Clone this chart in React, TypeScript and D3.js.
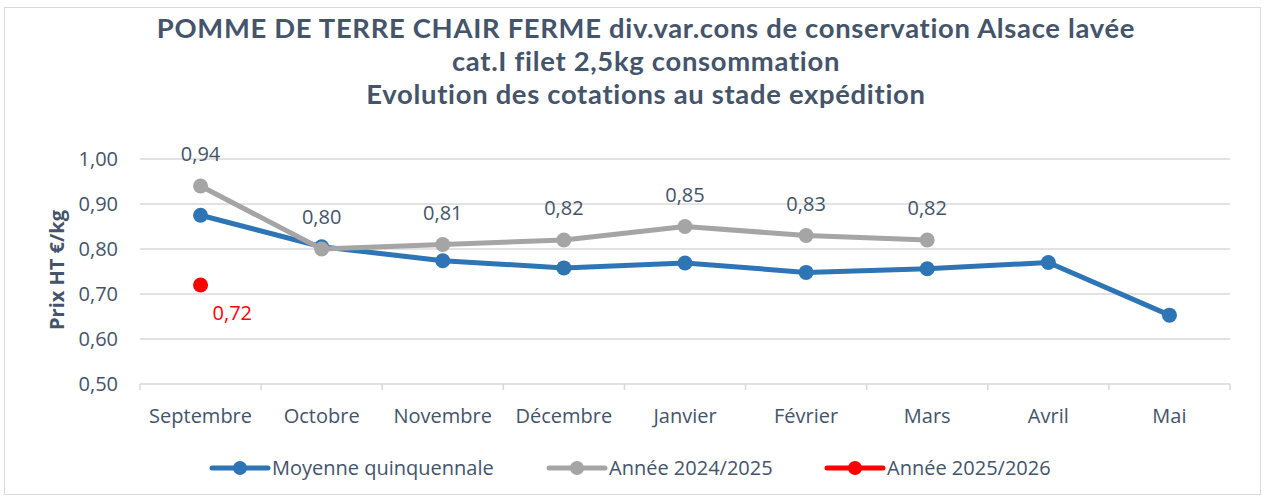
import * as d3 from "d3";

const W = 1266;
const H = 499;
const MARGIN = { top: 159, right: 36, bottom: 115, left: 140 };

const months = ["Septembre", "Octobre", "Novembre", "Décembre", "Janvier", "Février", "Mars", "Avril", "Mai"];
const moyenne = [0.875, 0.805, 0.774, 0.758, 0.769, 0.748, 0.756, 0.770, 0.653];
const annee2425 = [0.94, 0.80, 0.81, 0.82, 0.85, 0.83, 0.82];
const annee2526 = [0.72];
const yTicks = [0.5, 0.6, 0.7, 0.8, 0.9, 1.0];

const titleLines = [
  "POMME DE TERRE CHAIR FERME div.var.cons de conservation Alsace lavée",
  "cat.I filet 2,5kg consommation",
  "Evolution des cotations au stade expédition",
];

const BLUE = "#2e75b6";
const GREY = "#a5a5a5";
const RED = "#ff0000";
const TEXT = "#44546a";
const FONT = "'Open Sans', sans-serif";
const FS = 20;

const fmt = (v: number) => v.toFixed(2).replace(".", ",");

export default function App() {
  const boundsW = W - MARGIN.left - MARGIN.right;
  const boundsH = H - MARGIN.top - MARGIN.bottom;
  const x = d3.scaleBand<string>().domain(months).range([0, boundsW]);
  const y = d3.scaleLinear().domain([0.5, 1.0]).range([boundsH, 0]);
  const cx = (i: number) => (x(months[i]) ?? 0) + x.bandwidth() / 2;

  const line = d3
    .line<number>()
    .x((_, i) => cx(i))
    .y((d) => y(d));

  const series = [
    { name: "Moyenne quinquennale", color: BLUE, data: moyenne },
    { name: "Année 2024/2025", color: GREY, data: annee2425 },
    { name: "Année 2025/2026", color: RED, data: annee2526 },
  ];
  const legendX = [212, 549, 827];

  return (
    <svg width={W} height={H} style={{ position: "absolute", left: 0, top: 0 }}>
      <rect x={4.5} y={7.5} width={1256} height={487} fill="#fff" stroke="#d9d9d9" />
      <text
        textAnchor="middle"
        fontFamily="Lato, sans-serif"
        fontWeight="bold"
        fontSize={27.4}
        fill={TEXT}
        style={{ letterSpacing: "0.7px" }}
      >
        {titleLines.map((t, i) => (
          <tspan key={i} x={646} y={38 + i * 33}>
            {t}
          </tspan>
        ))}
      </text>
      <text
        transform={`translate(64,270) rotate(-90)`}
        textAnchor="middle"
        fontFamily={FONT}
        fontWeight="bold"
        fontSize={20}
        fill={TEXT}
      >
        Prix HT €/kg
      </text>
      <g transform={`translate(${MARGIN.left},${MARGIN.top})`}>
        {yTicks.map((t) => (
          <g key={t}>
            <line x1={0} x2={boundsW} y1={y(t)} y2={y(t)} stroke="#d9d9d9" strokeWidth={1.5} />
            <text
              x={-22}
              y={y(t)}
              dy="0.35em"
              textAnchor="end"
              fontFamily={FONT}
              fontSize={FS}
              fill={TEXT}
            >
              {fmt(t)}
            </text>
          </g>
        ))}
        {months.map((m, i) => (
          <g key={m}>
            <line
              x1={x(m) ?? 0}
              x2={x(m) ?? 0}
              y1={boundsH}
              y2={boundsH + 6}
              stroke="#d9d9d9"
              strokeWidth={1.5}
            />
            <text
              x={cx(i)}
              y={boundsH + 39}
              textAnchor="middle"
              fontFamily={FONT}
              fontSize={FS}
              fill={TEXT}
            >
              {m}
            </text>
          </g>
        ))}
        <line x1={boundsW} x2={boundsW} y1={boundsH} y2={boundsH + 6} stroke="#d9d9d9" strokeWidth={1.5} />
        {series.map((s) => (
          <g key={s.name}>
            {s.data.length > 1 && (
              <path d={line(s.data) ?? ""} fill="none" stroke={s.color} strokeWidth={5} strokeLinejoin="round" />
            )}
            {s.data.map((d, i) => (
              <circle key={i} cx={cx(i)} cy={y(d)} r={7.5} fill={s.color} />
            ))}
          </g>
        ))}
        {annee2425.map((d, i) => (
          <text
            key={i}
            x={cx(i)}
            y={y(d) - 32}
            dy="0.35em"
            textAnchor="middle"
            fontFamily={FONT}
            fontSize={FS}
            fill={TEXT}
          >
            {fmt(d)}
          </text>
        ))}
        {annee2526.map((d, i) => (
          <text
            key={i}
            x={cx(i) + 12}
            y={y(d) + 28}
            dy="0.35em"
            textAnchor="start"
            fontFamily={FONT}
            fontSize={FS}
            fill={RED}
          >
            {fmt(d)}
          </text>
        ))}
      </g>
      {series.map((s, i) => (
        <g key={s.name} transform={`translate(${legendX[i]},468)`}>
          <line x1={0} x2={56} y1={0} y2={0} stroke={s.color} strokeWidth={5} strokeLinecap="round" />
          <circle cx={28} cy={0} r={7} fill={s.color} />
          <text x={60} y={0} dy="0.35em" fontFamily={FONT} fontSize={FS} fill={TEXT}>
            {s.name}
          </text>
        </g>
      ))}
    </svg>
  );
}
